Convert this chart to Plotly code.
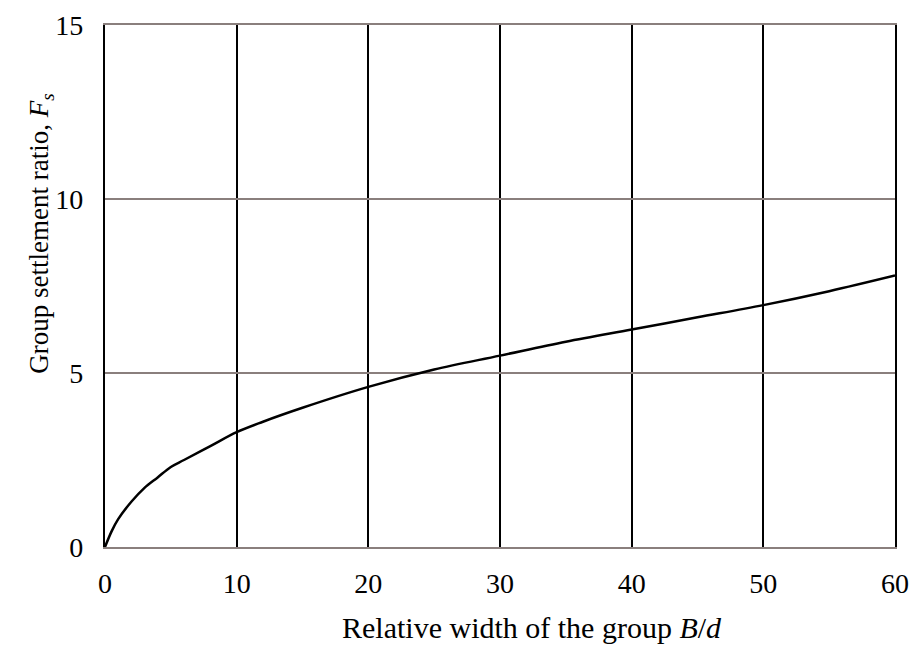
import plotly.graph_objects as go

# Data
bd = [0, 0.5, 1, 2, 3, 4, 5, 6, 8, 10, 12, 15, 20, 25, 30, 35, 40, 45, 50, 55, 60]
fs = [0, 0.45, 0.8, 1.3, 1.7, 2.0, 2.3, 2.5, 2.9, 3.3, 3.6, 4.0, 4.6, 5.1, 5.5, 5.9, 6.25, 6.6, 6.95, 7.35, 7.8]

x_ticks = [0, 10, 20, 30, 40, 50, 60]
y_ticks = [0, 5, 10, 15]

x_title = "Relative width of the group <i>B</i>/<i>d</i>"
y_title = "Group settlement ratio, <i>F<sub>s</sub></i>"

font_family = "Liberation Serif"

fig = go.Figure()
fig.add_trace(go.Scatter(x=bd, y=fs, mode="lines",
                         line=dict(color="black", width=2.5, shape="spline"),
                         showlegend=False, hoverinfo="skip"))

fig.update_layout(
    width=917, height=657,
    margin=dict(l=97, r=30, t=17, b=118),
    paper_bgcolor="white", plot_bgcolor="white",
    font=dict(family=font_family, size=28, color="black"),
    xaxis=dict(
        range=[0, 60], tickvals=x_ticks, ticks="", showgrid=True,
        gridcolor="black", gridwidth=1.8, zeroline=False,
        showline=True, linecolor="#8a7f7d", linewidth=2, mirror=True,
        ticklabelstandoff=10, automargin=False, ticklabeloverflow="allow",
        tickfont=dict(size=28),
    ),
    yaxis=dict(
        range=[0, 15], tickvals=y_ticks, ticks="", showgrid=True,
        gridcolor="#8a7f7d", gridwidth=1.8, zeroline=False,
        showline=True, linecolor="black", linewidth=2.2, mirror=True,
        ticklabelstandoff=14, automargin=False, ticklabeloverflow="allow",
        tickfont=dict(size=28),
    ),
    annotations=[
        dict(text=x_title, xref="paper", yref="paper", x=0.54, y=0,
             yshift=-80, xanchor="center", yanchor="middle",
             showarrow=False, font=dict(size=30)),
        dict(text=y_title, xref="paper", yref="paper", x=0, y=0.6,
             xshift=-64, xanchor="center", yanchor="middle", textangle=-90,
             showarrow=False, font=dict(size=27)),
    ],
)

fig.write_html("out.html")
